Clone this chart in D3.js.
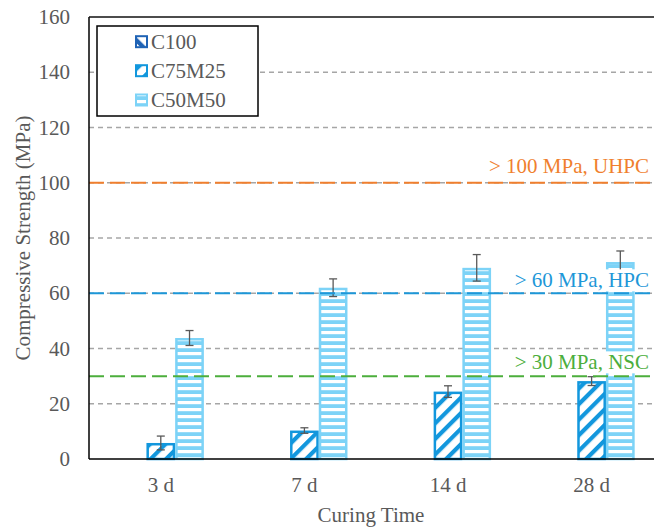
<!DOCTYPE html>
<html>
<head>
<meta charset="utf-8">
<script src="https://cdn.jsdelivr.net/npm/d3@7"></script>
<style>
  html, body { margin: 0; padding: 0; background: #fff; }
  svg { display: block; font-family: "Liberation Serif", "Times New Roman", serif; }
</style>
</head>
<body>
<svg id="chart" width="654" height="527"></svg>
<script>
// Curing ages and mix series
const categories = ["3 d", "7 d", "14 d", "28 d"];
const seriesNames = ["C100", "C75M25", "C50M50"];

// Mean compressive strength (MPa) per mix; C100 has no bars
const c100 = [null, null, null, null];
const c75m25 = [5.8, 10.3, 24.4, 28.2];
const c50m50 = [43.8, 62.0, 69.2, 71.3];

// Standard deviation for the error bars
const c100Err = [null, null, null, null];
const c75m25Err = [2.5, 1.0, 2.1, 1.6];
const c50m50Err = [2.7, 3.2, 4.8, 4.0];

// Strength class thresholds
const thresholdValues = [100, 60, 30];
const thresholdLabels = ["> 100 MPa, UHPC", "> 60 MPa, HPC", "> 30 MPa, NSC"];

const yTicks = [0, 20, 40, 60, 80, 100, 120, 140, 160];

const seriesValues = [c100, c75m25, c50m50];
const seriesErrors = [c100Err, c75m25Err, c50m50Err];
const seriesColors = ["#1f63b5", "#1297dd", "#7dd3f7"];
const thresholdColors = ["#f07f2e", "#1d97d8", "#4cae3c"];
const textColor = "#595959";

const svg = d3.select("#chart");
const pLeft = 89, pTop = 17, pBottom = 459, pRight = 654;
const step = 143.6;

const y = d3.scaleLinear().domain([0, 160]).range([pBottom, pTop]);
const x = d3.scaleBand().domain(categories)
  .range([pLeft, pLeft + step * categories.length])
  .paddingInner(0.4).paddingOuter(0.2);
const xs = d3.scaleBand().domain(seriesNames).range([0, x.bandwidth()]);

// Fill patterns
const defs = svg.append("defs");
function diagPattern(id, color, dir) {
  const p = defs.append("pattern").attr("id", id)
    .attr("patternUnits", "userSpaceOnUse")
    .attr("width", 11).attr("height", 11)
    .attr("patternTransform", `rotate(${dir * 45})`);
  p.append("rect").attr("width", 11).attr("height", 11).attr("fill", "#fff");
  p.append("rect").attr("x", 0).attr("width", 4.2).attr("height", 11).attr("fill", color);
}
diagPattern("pat-c100", seriesColors[0], -1);
diagPattern("pat-c75", seriesColors[1], 1);
const hp = defs.append("pattern").attr("id", "pat-c50")
  .attr("patternUnits", "userSpaceOnUse").attr("width", 10).attr("height", 7);
hp.append("rect").attr("width", 10).attr("height", 7).attr("fill", seriesColors[2]);
hp.append("rect").attr("y", 2).attr("width", 10).attr("height", 3.2).attr("fill", "#fff");
const patterns = ["url(#pat-c100)", "url(#pat-c75)", "url(#pat-c50)"];

// Gridlines
svg.append("g").selectAll("line")
  .data(yTicks.filter(t => t > 0 && t < 160))
  .join("line")
  .attr("x1", pLeft).attr("x2", pRight)
  .attr("y1", d => y(d)).attr("y2", d => y(d))
  .attr("stroke", "#a6a6a6").attr("stroke-width", 1.5)
  .attr("stroke-dasharray", "5,4");

// Bars
const barData = [];
seriesNames.forEach((s, si) => {
  categories.forEach((c, ci) => {
    const v = seriesValues[si][ci];
    if (v != null) barData.push({ s, si, c, v, e: seriesErrors[si][ci] });
  });
});
const bw = xs.bandwidth();
svg.append("g").selectAll("rect")
  .data(barData).join("rect")
  .attr("x", d => x(d.c) + xs(d.s) + 1.25)
  .attr("width", bw - 2.5)
  .attr("y", d => y(d.v) + 1.25)
  .attr("height", d => y(0) - y(d.v) - 1.25)
  .attr("fill", d => patterns[d.si])
  .attr("stroke", d => seriesColors[d.si])
  .attr("stroke-width", 2.5);

// Error bars
const eg = svg.append("g").attr("stroke", textColor).attr("stroke-width", 1.3);
barData.forEach(d => {
  const cx = x(d.c) + xs(d.s) + bw / 2;
  eg.append("line").attr("x1", cx).attr("x2", cx)
    .attr("y1", y(d.v + d.e)).attr("y2", y(d.v - d.e));
  [d.v + d.e, d.v - d.e].forEach(t => {
    eg.append("line").attr("x1", cx - 4).attr("x2", cx + 4)
      .attr("y1", y(t)).attr("y2", y(t));
  });
});

// Threshold label boxes (white backing), lines, then text
const tg = svg.append("g");
const labelY = [166, 280, 362];
const labels = tg.selectAll("text").data(thresholdValues).join("text")
  .attr("x", 649).attr("y", (d, i) => labelY[i])
  .attr("dy", "0.35em")
  .attr("text-anchor", "end")
  .attr("font-size", 21)
  .attr("fill", (d, i) => thresholdColors[i])
  .text((d, i) => thresholdLabels[i]);
labels.each(function () {
  const b = this.getBBox();
  tg.insert("rect", "text")
    .attr("x", b.x - 6).attr("y", b.y + 1)
    .attr("width", b.width + 12).attr("height", b.height - 2)
    .attr("fill", "#fff");
});
svg.append("g").selectAll("line").data(thresholdValues).join("line")
  .attr("x1", pLeft).attr("x2", pRight)
  .attr("y1", d => y(d)).attr("y2", d => y(d))
  .attr("stroke", (d, i) => thresholdColors[i])
  .attr("stroke-width", 2)
  .attr("stroke-dasharray", "15,6");
svg.node().appendChild(tg.node());

// Axes frame: left axis, bottom axis, top border
svg.append("line").attr("x1", pLeft).attr("x2", pLeft).attr("y1", pTop).attr("y2", pBottom)
  .attr("stroke", "#000").attr("stroke-width", 1.5);
svg.append("line").attr("x1", pLeft).attr("x2", pRight).attr("y1", pBottom).attr("y2", pBottom)
  .attr("stroke", "#000").attr("stroke-width", 1.5);
svg.append("line").attr("x1", pLeft).attr("x2", pRight).attr("y1", pTop).attr("y2", pTop)
  .attr("stroke", "#111").attr("stroke-width", 1.5);

// Y tick labels
const yAxis = svg.append("g").attr("transform", `translate(${pLeft},0)`)
  .call(d3.axisLeft(y).tickValues(yTicks).tickSize(0).tickPadding(19));
yAxis.select(".domain").remove();
yAxis.selectAll("text").attr("font-size", 21).attr("fill", textColor)
  .attr("font-family", "Liberation Serif, serif");

// X tick labels
const xAxis = svg.append("g").attr("transform", `translate(0,${pBottom})`)
  .call(d3.axisBottom(x).tickSize(0).tickPadding(18));
xAxis.select(".domain").remove();
xAxis.selectAll("text").attr("font-size", 21).attr("fill", textColor)
  .attr("font-family", "Liberation Serif, serif");

// Axis titles
svg.append("text").attr("x", 371).attr("y", 515).attr("dy", "0.35em")
  .attr("text-anchor", "middle").attr("font-size", 21).attr("fill", textColor)
  .text("Curing Time");
svg.append("text")
  .attr("transform", `translate(23,${(pTop + pBottom) / 2}) rotate(-90)`)
  .attr("dy", "0.35em")
  .attr("text-anchor", "middle").attr("font-size", 21).attr("fill", textColor)
  .text("Compressive Strength (MPa)");

// Legend
const lg = svg.append("g");
lg.append("rect").attr("x", 97).attr("y", 26).attr("width", 161).attr("height", 90)
  .attr("fill", "#fff").attr("stroke", "#000").attr("stroke-width", 1.5);
const rowY = [41.7, 70.7, 100];
seriesNames.forEach((s, i) => {
  lg.append("rect").attr("x", 136).attr("y", rowY[i] - 5.5)
    .attr("width", 11).attr("height", 11)
    .attr("fill", patterns[i]).attr("stroke", seriesColors[i]).attr("stroke-width", 2);
  lg.append("text").attr("x", 151).attr("y", rowY[i]).attr("dy", "0.35em")
    .attr("font-size", 21).attr("fill", textColor).text(s);
});
</script>
</body>
</html>
